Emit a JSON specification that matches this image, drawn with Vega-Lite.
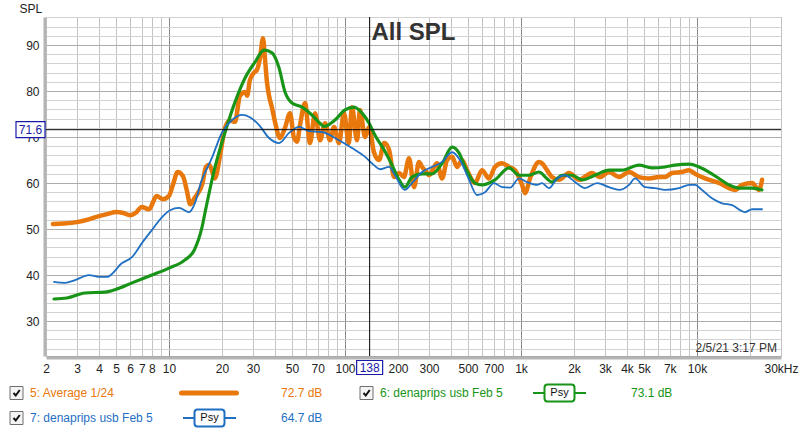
{
"$schema": "https://vega.github.io/schema/vega-lite/v6.json",
"autosize": {"type": "pad"},
"padding": {"left": 8, "top": 1, "right": 0, "bottom": 0},
"background": "white",
"spacing": 2,
"config": {
  "font": "Liberation Sans",
  "view": {"stroke": null},
  "axis": {"labelFont": "Liberation Sans", "labelFontSize": 12, "labelColor": "#222", "titleFont": "Liberation Sans"},
  "axisY": {"labelOverlap": false}
},
"datasets": {
"curves": [
{"s":"5","f":2.19,"db":51.1},{"s":"5","f":2.5,"db":51.2},{"s":"5","f":3.0,"db":51.5},{"s":"5","f":3.5,"db":52.1},{"s":"5","f":4.0,"db":52.8},{"s":"5","f":4.5,"db":53.3},{"s":"5","f":5.0,"db":53.7},{"s":"5","f":5.5,"db":53.5},{"s":"5","f":6.0,"db":53.0},{"s":"5","f":6.5,"db":53.6},{"s":"5","f":7.0,"db":54.8},{"s":"5","f":7.7,"db":54.3},{"s":"5","f":8.5,"db":57.2},{"s":"5","f":9.2,"db":56.5},{"s":"5","f":10,"db":57.2},{"s":"5","f":10.5,"db":59.5},{"s":"5","f":11.2,"db":62.4},{"s":"5","f":12.0,"db":61.5},{"s":"5","f":12.6,"db":58.5},{"s":"5","f":13.2,"db":55.4},{"s":"5","f":14.0,"db":56.8},{"s":"5","f":14.6,"db":57.8},{"s":"5","f":15.5,"db":60},{"s":"5","f":16.2,"db":63.5},{"s":"5","f":16.9,"db":64},{"s":"5","f":17.6,"db":62.5},{"s":"5","f":18.2,"db":61},{"s":"5","f":19.5,"db":66},{"s":"5","f":20.8,"db":72},{"s":"5","f":22.2,"db":73.6},{"s":"5","f":23.7,"db":73.3},{"s":"5","f":25.3,"db":79},{"s":"5","f":27.0,"db":79.8},{"s":"5","f":27.8,"db":79},{"s":"5","f":28.8,"db":82.4},{"s":"5","f":30.4,"db":84},{"s":"5","f":31.6,"db":84.6},{"s":"5","f":32.9,"db":87.2},{"s":"5","f":34.2,"db":91.5},{"s":"5","f":35.1,"db":87},{"s":"5","f":36,"db":82},{"s":"5","f":37.0,"db":79},{"s":"5","f":38.5,"db":76.3},{"s":"5","f":40.0,"db":73.3},{"s":"5","f":42.7,"db":69.8},{"s":"5","f":45.6,"db":72},{"s":"5","f":48.7,"db":75.2},{"s":"5","f":51.3,"db":69.8},{"s":"5","f":53.4,"db":69},{"s":"5","f":55.5,"db":72.6},{"s":"5","f":59.3,"db":77.4},{"s":"5","f":63.2,"db":68.7},{"s":"5","f":67.6,"db":75.2},{"s":"5","f":72.1,"db":69.3},{"s":"5","f":77.0,"db":73},{"s":"5","f":82.2,"db":69.3},{"s":"5","f":86.6,"db":72.2},{"s":"5","f":92.4,"db":68.7},{"s":"5","f":98.7,"db":75.2},{"s":"5","f":105,"db":68.7},{"s":"5","f":109.6,"db":76.5},{"s":"5","f":117,"db":69.3},{"s":"5","f":121.6,"db":75.9},{"s":"5","f":130,"db":70},{"s":"5","f":137,"db":72.2},{"s":"5","f":146,"db":66.7},{"s":"5","f":156,"db":65},{"s":"5","f":167,"db":68.7},{"s":"5","f":178,"db":67.2},{"s":"5","f":190,"db":61.3},{"s":"5","f":203,"db":62.2},{"s":"5","f":216,"db":61.3},{"s":"5","f":231,"db":65.4},{"s":"5","f":247,"db":59.1},{"s":"5","f":263,"db":64.6},{"s":"5","f":274,"db":63.5},{"s":"5","f":292,"db":62.3},{"s":"5","f":300,"db":61.7},{"s":"5","f":333,"db":64.3},{"s":"5","f":356,"db":61},{"s":"5","f":380,"db":65},{"s":"5","f":406,"db":65.7},{"s":"5","f":433,"db":63.5},{"s":"5","f":462,"db":65},{"s":"5","f":493,"db":62.8},{"s":"5","f":548,"db":60},{"s":"5","f":600,"db":62.8},{"s":"5","f":658,"db":61},{"s":"5","f":711,"db":63.5},{"s":"5","f":780,"db":64.3},{"s":"5","f":855,"db":63.5},{"s":"5","f":925,"db":62.8},{"s":"5","f":980,"db":61},{"s":"5","f":1014,"db":59.6},{"s":"5","f":1054,"db":57.8},{"s":"5","f":1125,"db":61},{"s":"5","f":1265,"db":64.6},{"s":"5","f":1316,"db":64.3},{"s":"5","f":1405,"db":62.8},{"s":"5","f":1500,"db":61.3},{"s":"5","f":1644,"db":60.7},{"s":"5","f":1875,"db":62.2},{"s":"5","f":2138,"db":60.7},{"s":"5","f":2532,"db":62.2},{"s":"5","f":2812,"db":61.3},{"s":"5","f":3162,"db":62.4},{"s":"5","f":3604,"db":61.3},{"s":"5","f":4111,"db":62.4},{"s":"5","f":4677,"db":61.3},{"s":"5","f":5334,"db":61},{"s":"5","f":6080,"db":61.3},{"s":"5","f":6576,"db":61.3},{"s":"5","f":7210,"db":62.2},{"s":"5","f":8222,"db":62.4},{"s":"5","f":9017,"db":62.8},{"s":"5","f":9750,"db":62},{"s":"5","f":11100,"db":61},{"s":"5","f":13330,"db":60},{"s":"5","f":15200,"db":58.9},{"s":"5","f":16440,"db":58.5},{"s":"5","f":18030,"db":59.6},{"s":"5","f":20560,"db":60},{"s":"5","f":22510,"db":58.5},{"s":"5","f":23410,"db":60.7},
{"s":"6","f":2.22,"db":34.8},{"s":"6","f":2.63,"db":35},{"s":"6","f":3.33,"db":36.1},{"s":"6","f":4.33,"db":36.3},{"s":"6","f":5,"db":36.9},{"s":"6","f":6.16,"db":38.3},{"s":"6","f":8.0,"db":40},{"s":"6","f":10,"db":41.5},{"s":"6","f":12.33,"db":43.3},{"s":"6","f":13.9,"db":45.4},{"s":"6","f":15.4,"db":50.4},{"s":"6","f":16.0,"db":53.5},{"s":"6","f":18.2,"db":63.3},{"s":"6","f":20.8,"db":71},{"s":"6","f":23.7,"db":77.6},{"s":"6","f":27.0,"db":82.8},{"s":"6","f":30.8,"db":86.3},{"s":"6","f":34.7,"db":88.9},{"s":"6","f":38.5,"db":88.3},{"s":"6","f":42.2,"db":85},{"s":"6","f":45.6,"db":79.8},{"s":"6","f":50,"db":77.4},{"s":"6","f":57,"db":76.5},{"s":"6","f":64.9,"db":74.8},{"s":"6","f":72,"db":73},{"s":"6","f":76,"db":72.3},{"s":"6","f":87.7,"db":73.7},{"s":"6","f":100,"db":75.9},{"s":"6","f":112.5,"db":76.5},{"s":"6","f":125,"db":75.2},{"s":"6","f":137,"db":73},{"s":"6","f":148,"db":70.4},{"s":"6","f":167,"db":67.2},{"s":"6","f":185,"db":63.9},{"s":"6","f":203,"db":60.7},{"s":"6","f":219,"db":59.1},{"s":"6","f":240,"db":61.3},{"s":"6","f":274,"db":62},{"s":"6","f":312,"db":62},{"s":"6","f":356,"db":64.3},{"s":"6","f":406,"db":67.8},{"s":"6","f":445,"db":66.5},{"s":"6","f":481,"db":63.5},{"s":"6","f":548,"db":60},{"s":"6","f":600,"db":59.6},{"s":"6","f":711,"db":60.7},{"s":"6","f":855,"db":63.3},{"s":"6","f":975,"db":61.7},{"s":"6","f":1110,"db":61.7},{"s":"6","f":1265,"db":62.4},{"s":"6","f":1400,"db":61},{"s":"6","f":1500,"db":60.2},{"s":"6","f":1710,"db":61.7},{"s":"6","f":1950,"db":61.7},{"s":"6","f":2223,"db":60.7},{"s":"6","f":2633,"db":61.7},{"s":"6","f":3162,"db":62.8},{"s":"6","f":3748,"db":62.8},{"s":"6","f":4677,"db":63.9},{"s":"6","f":5546,"db":63.3},{"s":"6","f":6576,"db":63.5},{"s":"6","f":7499,"db":63.9},{"s":"6","f":9017,"db":64.1},{"s":"6","f":10270,"db":63.5},{"s":"6","f":11700,"db":62.4},{"s":"6","f":13330,"db":61},{"s":"6","f":15200,"db":59.6},{"s":"6","f":17340,"db":58.9},{"s":"6","f":20560,"db":58.9},{"s":"6","f":23410,"db":58.5},
{"s":"7","f":2.22,"db":38.5},{"s":"7","f":2.56,"db":38.3},{"s":"7","f":2.92,"db":38.9},{"s":"7","f":3.51,"db":40},{"s":"7","f":4.0,"db":39.6},{"s":"7","f":4.44,"db":39.6},{"s":"7","f":5.41,"db":42.6},{"s":"7","f":6.16,"db":43.9},{"s":"7","f":7.03,"db":47},{"s":"7","f":8.0,"db":49.8},{"s":"7","f":9.13,"db":52.6},{"s":"7","f":10.13,"db":54.1},{"s":"7","f":11.4,"db":54.6},{"s":"7","f":13.0,"db":53.7},{"s":"7","f":14.05,"db":55.7},{"s":"7","f":15.2,"db":60.2},{"s":"7","f":17.5,"db":65.4},{"s":"7","f":20.0,"db":71},{"s":"7","f":22.8,"db":73.7},{"s":"7","f":26.0,"db":74.8},{"s":"7","f":28.8,"db":74.3},{"s":"7","f":32.5,"db":72.6},{"s":"7","f":37.0,"db":69.8},{"s":"7","f":42.2,"db":68.7},{"s":"7","f":48.1,"db":70.9},{"s":"7","f":54.8,"db":72.2},{"s":"7","f":62.4,"db":71.3},{"s":"7","f":74,"db":71.1},{"s":"7","f":92.4,"db":69.3},{"s":"7","f":109.6,"db":67.6},{"s":"7","f":130,"db":65.7},{"s":"7","f":146,"db":63.9},{"s":"7","f":158,"db":63},{"s":"7","f":178,"db":63.5},{"s":"7","f":192,"db":61.7},{"s":"7","f":219,"db":58.5},{"s":"7","f":240,"db":60},{"s":"7","f":274,"db":62.4},{"s":"7","f":304,"db":63.3},{"s":"7","f":356,"db":64.6},{"s":"7","f":406,"db":66.7},{"s":"7","f":450,"db":65},{"s":"7","f":507,"db":60.7},{"s":"7","f":562,"db":57.4},{"s":"7","f":624,"db":58},{"s":"7","f":703,"db":60},{"s":"7","f":780,"db":59.1},{"s":"7","f":867,"db":59},{"s":"7","f":975,"db":61},{"s":"7","f":1082,"db":60.2},{"s":"7","f":1233,"db":59.6},{"s":"7","f":1316,"db":60},{"s":"7","f":1442,"db":58.9},{"s":"7","f":1603,"db":61},{"s":"7","f":1778,"db":61.7},{"s":"7","f":2028,"db":60.2},{"s":"7","f":2312,"db":58.9},{"s":"7","f":2704,"db":60},{"s":"7","f":3162,"db":59.1},{"s":"7","f":3604,"db":58.5},{"s":"7","f":4111,"db":59.6},{"s":"7","f":4446,"db":61},{"s":"7","f":5070,"db":59.1},{"s":"7","f":5768,"db":58.9},{"s":"7","f":6576,"db":58.5},{"s":"7","f":7906,"db":58.9},{"s":"7","f":9017,"db":59.6},{"s":"7","f":9750,"db":59.6},{"s":"7","f":10680,"db":58.5},{"s":"7","f":12160,"db":56.7},{"s":"7","f":13870,"db":55.6},{"s":"7","f":15810,"db":55.2},{"s":"7","f":18750,"db":53.7},{"s":"7","f":20560,"db":54.3},{"s":"7","f":23410,"db":54.3}
],
"legend": [
{"s":"5","label":"5: Average 1/24","val":"72.7 dB","col":1,"row":1,"kind":"line"},
{"s":"6","label":"6: denaprips usb Feb 5","val":"73.1 dB","col":2,"row":1,"kind":"psy"},
{"s":"7","label":"7: denaprips usb Feb 5","val":"64.7 dB","col":1,"row":2,"kind":"psy"}
],
"cursor": [{"f":138,"db":71.6,"fl":"138","dl":"71.6"}],
"stamp": [{"t":"2/5/21 3:17 PM"}]
},
"vconcat": [
{
  "width": 735,
  "height": 339,
  "view": {"stroke": "#a0a0a0", "strokeWidth": 1},
  "title": {"text": "All SPL", "font": "Liberation Sans", "fontSize": 24, "fontWeight": "bold", "color": "#333", "offset": -43, "frame": "group", "anchor": "middle"},
  "layer": [
    {
      "data": {"name": "curves"},
      "mark": {"type": "line", "interpolate": "monotone", "clip": true, "strokeCap": "round", "strokeJoin": "round"},
      "encoding": {
        "x": {"field": "f", "type": "quantitative",
          "scale": {"type": "log", "domain": [2, 30000], "nice": false},
          "axis": {"title": null, "zindex": 0, "ticks": false, "grid": true, "tickCount": 100,
            "values": [2,3,4,5,6,7,8,9,10,20,30,40,50,60,70,80,90,100,200,300,400,500,600,700,800,900,1000,2000,3000,4000,5000,6000,7000,8000,9000,10000,20000,30000],
            "labelExpr": "datum.value == 30000 ? '30kHz' : indexof([2,3,4,5,6,7,8,10,20,30,50,70,100,200,300,500,700], datum.value) >= 0 ? '' + datum.value : indexof([1000,2000,3000,4000,5000,7000,10000], datum.value) >= 0 ? (datum.value / 1000) + 'k' : ''",
            "labelOverlap": false, "labelFlush": false, "labelPadding": 6,
            "gridColor": {"condition": {"test": "indexof([10,100,1000,10000], datum.value) >= 0", "value": "#8a8a8a"}, "value": "#c2c2c2"},
            "domainColor": "#b4b4b4", "domainWidth": 3, "offset": 1.5}},
        "y": {"field": "db", "type": "quantitative",
          "scale": {"domain": [22.4, 96.1], "nice": false, "zero": false},
          "axis": {"zindex": 0, "ticks": false, "grid": true, "tickCount": 100,
            "values": [24,26,28,30,32,34,36,38,40,42,44,46,48,50,52,54,56,58,60,62,64,66,68,70,72,74,76,78,80,82,84,86,88,90,92,94,96],
            "labelExpr": "datum.value % 10 == 0 ? '' + datum.value : ''",
            "labelFontSize": {"condition": {"test": "datum.value % 10 != 0", "value": 0}, "value": 12},
            "labelOverlap": false, "labelFlush": false, "labelPadding": 5.5,
            "gridColor": {"condition": {"test": "datum.value % 10 == 0", "value": "#ababab"}, "value": "#d2d2d2"},
            "domainColor": "#b4b4b4", "domainWidth": 3, "offset": 1.5,
            "title": "SPL", "titleAngle": 0, "titleX": -25.5, "titleY": -5, "titleAlign": "left", "titleBaseline": "alphabetic",
            "titleFontSize": 12, "titleFontWeight": "normal", "titleColor": "#222"}},
        "color": {"field": "s", "type": "nominal", "scale": {"domain": ["5","6","7"], "range": ["#e8780c","#189418","#1f6fc3"]}, "legend": null},
        "strokeWidth": {"field": "s", "type": "nominal", "scale": {"domain": ["5","6","7"], "range": [4.5,1.8,1.8]}, "legend": null}
      }
    },
    {
      "data": {"name": "cursor"},
      "mark": {"type": "rule", "color": "black", "strokeWidth": 1},
      "encoding": {"y": {"field": "db", "type": "quantitative"}}
    },
    {
      "data": {"name": "cursor"},
      "mark": {"type": "rule", "color": "black", "strokeWidth": 1},
      "encoding": {"x": {"field": "f", "type": "quantitative"}}
    },
    {
      "data": {"name": "cursor"},
      "mark": {"type": "point", "shape": "M-1,-0.55L1,-0.55L1,0.55L-1,0.55Z", "size": 841, "filled": true, "fill": "white", "stroke": "#1a1aa8", "strokeWidth": 1.2, "opacity": 1, "x": 0, "xOffset": -15.5, "clip": false},
      "encoding": {"y": {"field": "db", "type": "quantitative"}}
    },
    {
      "data": {"name": "cursor"},
      "mark": {"type": "text", "x": 0, "dx": -15.5, "align": "center", "baseline": "middle", "fontSize": 12, "color": "#1a1aa8", "font": "Liberation Sans"},
      "encoding": {"y": {"field": "db", "type": "quantitative"}, "text": {"field": "dl"}}
    },
    {
      "data": {"name": "cursor"},
      "mark": {"type": "point", "shape": "M-1,-0.54L1,-0.54L1,0.54L-1,0.54Z", "size": 676, "filled": true, "fill": "white", "stroke": "#1a1aa8", "strokeWidth": 1.2, "opacity": 1, "y": "height", "yOffset": 11.5, "clip": false},
      "encoding": {"x": {"field": "f", "type": "quantitative"}}
    },
    {
      "data": {"name": "cursor"},
      "mark": {"type": "text", "y": "height", "dy": 11.5, "align": "center", "baseline": "middle", "fontSize": 12, "color": "#1a1aa8", "font": "Liberation Sans"},
      "encoding": {"x": {"field": "f", "type": "quantitative"}, "text": {"field": "fl"}}
    },
    {
      "data": {"name": "stamp"},
      "mark": {"type": "text", "x": "width", "y": "height", "dx": -4, "dy": -4, "align": "right", "baseline": "alphabetic", "fontSize": 12, "color": "#333", "font": "Liberation Sans"},
      "encoding": {"text": {"field": "t"}}
    }
  ]
},
{
  "width": 350,
  "height": 25,
  "view": {"stroke": null},
  "data": {"name": "legend"},
  "encoding": {
    "x": {"field": "col", "type": "ordinal", "scale": {"type": "point", "padding": 0}, "axis": null},
    "y": {"field": "row", "type": "ordinal", "scale": {"type": "point", "padding": 0}, "axis": null}
  },
  "layer": [
    {"mark": {"type": "point", "shape": "square", "size": 169, "filled": true, "fill": "#f4f4f4", "stroke": "#6e6e6e", "strokeWidth": 1, "opacity": 1, "xOffset": -29.5}},
    {"mark": {"type": "point", "shape": "M-0.6,0L-0.15,0.5L0.65,-0.6", "size": 100, "filled": false, "fill": "transparent", "stroke": "#111", "strokeWidth": 2, "opacity": 1, "xOffset": -29.5}},
    {"mark": {"type": "text", "align": "left", "baseline": "middle", "dx": -16, "fontSize": 12, "font": "Liberation Sans"},
     "encoding": {"text": {"field": "label"}, "color": {"field": "s", "type": "nominal", "legend": null}}},
    {"transform": [{"filter": "datum.kind == 'line'"}],
     "mark": {"type": "point", "shape": "M-1,0L1,0", "size": 3025, "filled": false, "strokeWidth": 5, "strokeCap": "round", "opacity": 1, "xOffset": 163},
     "encoding": {"color": {"field": "s", "type": "nominal", "legend": null}}},
    {"transform": [{"filter": "datum.kind == 'psy'"}],
     "mark": {"type": "point", "shape": "M-1,0L-0.566,0M0.566,0L1,0M-0.566,-0.2Q-0.566,-0.32,-0.45,-0.32L0.45,-0.32Q0.566,-0.32,0.566,-0.2L0.566,0.2Q0.566,0.32,0.45,0.32L-0.45,0.32Q-0.566,0.32,-0.566,0.2Z", "size": 2809, "filled": false, "fill": "white", "strokeWidth": 2, "opacity": 1, "xOffset": 163.5},
     "encoding": {"stroke": {"field": "s", "type": "nominal", "scale": {"domain": ["5","6","7"], "range": ["#e8780c","#189418","#1f6fc3"]}, "legend": null}}},
    {"transform": [{"filter": "datum.kind == 'psy'"}],
     "mark": {"type": "text", "align": "center", "baseline": "middle", "dx": 163.5, "fontSize": 11, "color": "#111", "font": "Liberation Sans"},
     "encoding": {"text": {"value": "Psy"}}},
    {"mark": {"type": "text", "align": "left", "baseline": "middle", "dx": 235, "fontSize": 12, "font": "Liberation Sans"},
     "encoding": {"text": {"field": "val"}, "color": {"field": "s", "type": "nominal", "legend": null}}}
  ]
}
]
}
